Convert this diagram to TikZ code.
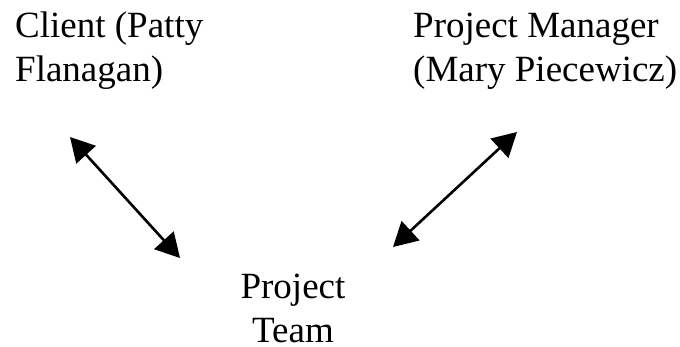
\documentclass[tikz,border=0pt]{standalone}
\usepackage{fontspec}
\setmainfont{Liberation Serif}
\usetikzlibrary{arrows.meta,positioning}

\begin{document}
\begin{tikzpicture}[
    x=1pt, y=-1pt,
    label/.style={inner sep=0pt, font=\fontsize{37}{44}\selectfont},
    link/.style={{Triangle[length=24pt,width=26pt]}-{Triangle[length=24pt,width=26pt]}, line width=2.6pt}
]
    \useasboundingbox (0,0) rectangle (680,347);
    \node[label, align=left, anchor=base west] (client) at (15,82) {Client (Patty\\Flanagan)};
    \node[label, align=left, anchor=base west] (manager) at (413,82) {Project Manager\\(Mary Piecewicz)};
    \node[label, align=center, anchor=base] (team) at (293,342) {Project\\Team};

    \coordinate (clientEnd) at (70,137);
    \coordinate (teamLeft) at (180,258);
    \coordinate (managerEnd) at (517,132);
    \coordinate (teamRight) at (393,247);

    \draw[link] (clientEnd) -- (teamLeft);
    \draw[link] (managerEnd) -- (teamRight);
\end{tikzpicture}
\end{document}
